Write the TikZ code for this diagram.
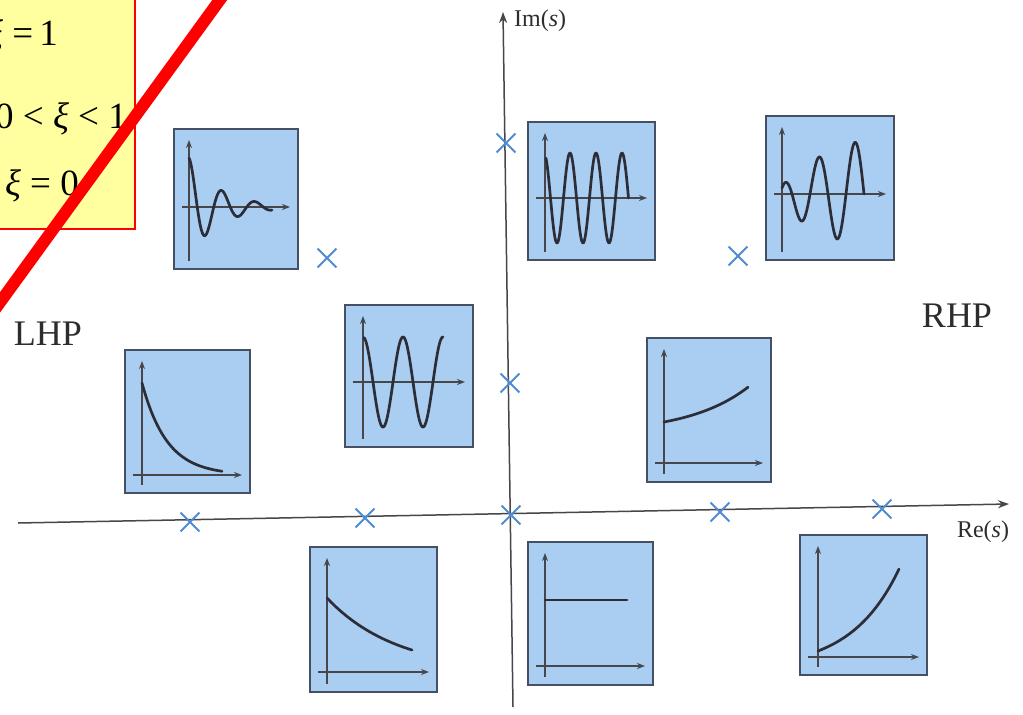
\documentclass[tikz,border=0pt]{standalone}
\usepackage{fontspec}
\setmainfont{Liberation Serif}
\definecolor{PanelBlue}{RGB}{170, 205, 242}
\definecolor{PanelEdge}{RGB}{70, 80, 100}
\definecolor{CurveDark}{RGB}{45, 45, 55}
\definecolor{AxisGray}{RGB}{70, 70, 75}
\definecolor{PoleBlue}{RGB}{80, 140, 210}
\definecolor{NoteYellow}{RGB}{255, 255, 160}
\definecolor{TextGray}{RGB}{45, 45, 45}
\usetikzlibrary{arrows.meta, shapes.misc}

\begin{document}
\begin{tikzpicture}[x=1pt, y=-1pt, >={Stealth[length=11pt, width=8pt]},
    panel/.style={fill=PanelBlue, draw=PanelEdge, line width=2pt},
    paxis/.style={draw=AxisGray, line width=1.4pt, -{Stealth[length=8pt, width=6pt]}},
    curve/.style={draw=CurveDark, line width=2.7pt, line cap=round, line join=round},
    pole/.style={cross out, draw=PoleBlue, line width=1.8pt, minimum size=17pt, inner sep=0pt},
    axislbl/.style={font=\fontsize{24}{27}\selectfont, text=TextGray, inner sep=0pt},
    halflbl/.style={font=\fontsize{36}{40}\selectfont, text=TextGray, inner sep=0pt},
    notelbl/.style={font=\fontsize{37}{40}\selectfont, text=black, inner sep=0pt}]
        \clip (0,0) rectangle (1023,715);
        \fill[white] (0,0) rectangle (1023,715);
        % damping note (cut off at the corner)
        \draw[fill=NoteYellow, draw=red, line width=2pt] (-20,-20) rectangle (135,229);
        \node[notelbl, anchor=base east] (zone1) at (58,45) {\textit{ξ} =\,1};
        \node[notelbl, anchor=base east] (zone2) at (127,128) {0 < \textit{ξ} < 1};
        \node[notelbl, anchor=base east] (zone3) at (79,195) {\textit{ξ} = 0};
        % strike-through
        \draw[red, line width=12pt] (235,-21) -- (-15,323);
        % s-plane axes
        \coordinate (reStart) at (18,523);
        \coordinate (reEnd) at (1009,504);
        \coordinate (imStart) at (513,707);
        \coordinate (imEnd) at (503,12);
        \draw[AxisGray, line width=1.5pt, ->] (reStart) -- (reEnd);
        \draw[AxisGray, line width=1.5pt, ->] (imStart) -- (imEnd);
        \node[axislbl, anchor=west] (imlbl) at (514,21) {Im(\textit{s})};
        \node[axislbl] (relbl) at (983,532) {Re(\textit{s})};
        \node[halflbl] (lhp) at (48,334) {LHP};
        \node[halflbl] (rhp) at (957,316) {RHP};
        % response panels: box + small axes
        \foreach \l/\t/\r/\b/\vx/\hy in {174/129/298/269/189/207, 528/122/655/260/545/198,
            766/116/894/260/782/194, 125/350/250/493/142/475, 345/305/473/447/363/382,
            647/338/771/482/664/463, 310/547/437/692/327/672, 528/542/653/685/545/666,
            800/535/927/675/818/657} {
            \draw[panel] (\l,\t) rectangle (\r,\b);
            \draw[paxis] ({\l+8},\hy) -- ({\r-8},\hy);
            \draw[paxis] (\vx,{\b-8}) -- (\vx,{\t+11});
        }
        % impulse responses
        \draw[curve] plot[domain=0:83, samples=150, smooth] ({189+\x},{207-49*exp(-\x/30)*cos(\x/33*360)});
        \draw[curve] plot[domain=2:84.5, samples=150, smooth] ({544+\x},{198-45*cos(\x/26*360)});
        \draw[curve] plot[domain=0:82, samples=150, smooth] ({782+\x},{194-6*sqrt(\x+1)*cos((\x-1)/36*360)});
        \draw[curve] plot[domain=0:80, samples=80, smooth] ({142+\x},{475-92*exp(-\x/25)});
        \draw[curve] plot[domain=1:80, samples=150, smooth] ({363+\x},{382-45*cos(\x*9)});
        \draw[curve] plot[domain=0:84, samples=60, smooth] ({664+\x},{422-11.4*(exp(\x/60)-1)});
        \draw[curve] plot[domain=0:85, samples=60, smooth] ({327+\x},{672-74*exp(-\x/70)});
        \draw[curve] (545,600) -- (627,600);
        \draw[curve] plot[domain=0:81, samples=60, smooth] ({818+\x},{651-18.6*(exp(\x/48)-1)});
        % poles
        \foreach \px/\py [count=\i] in {190/522, 365/518, 511/515, 720/512, 882/509,
            506/143, 510/383, 327/258, 738/256} {
            \node[pole] (pole\i) at (\px,\py) {};
        }
    \end{tikzpicture}
\end{document}
